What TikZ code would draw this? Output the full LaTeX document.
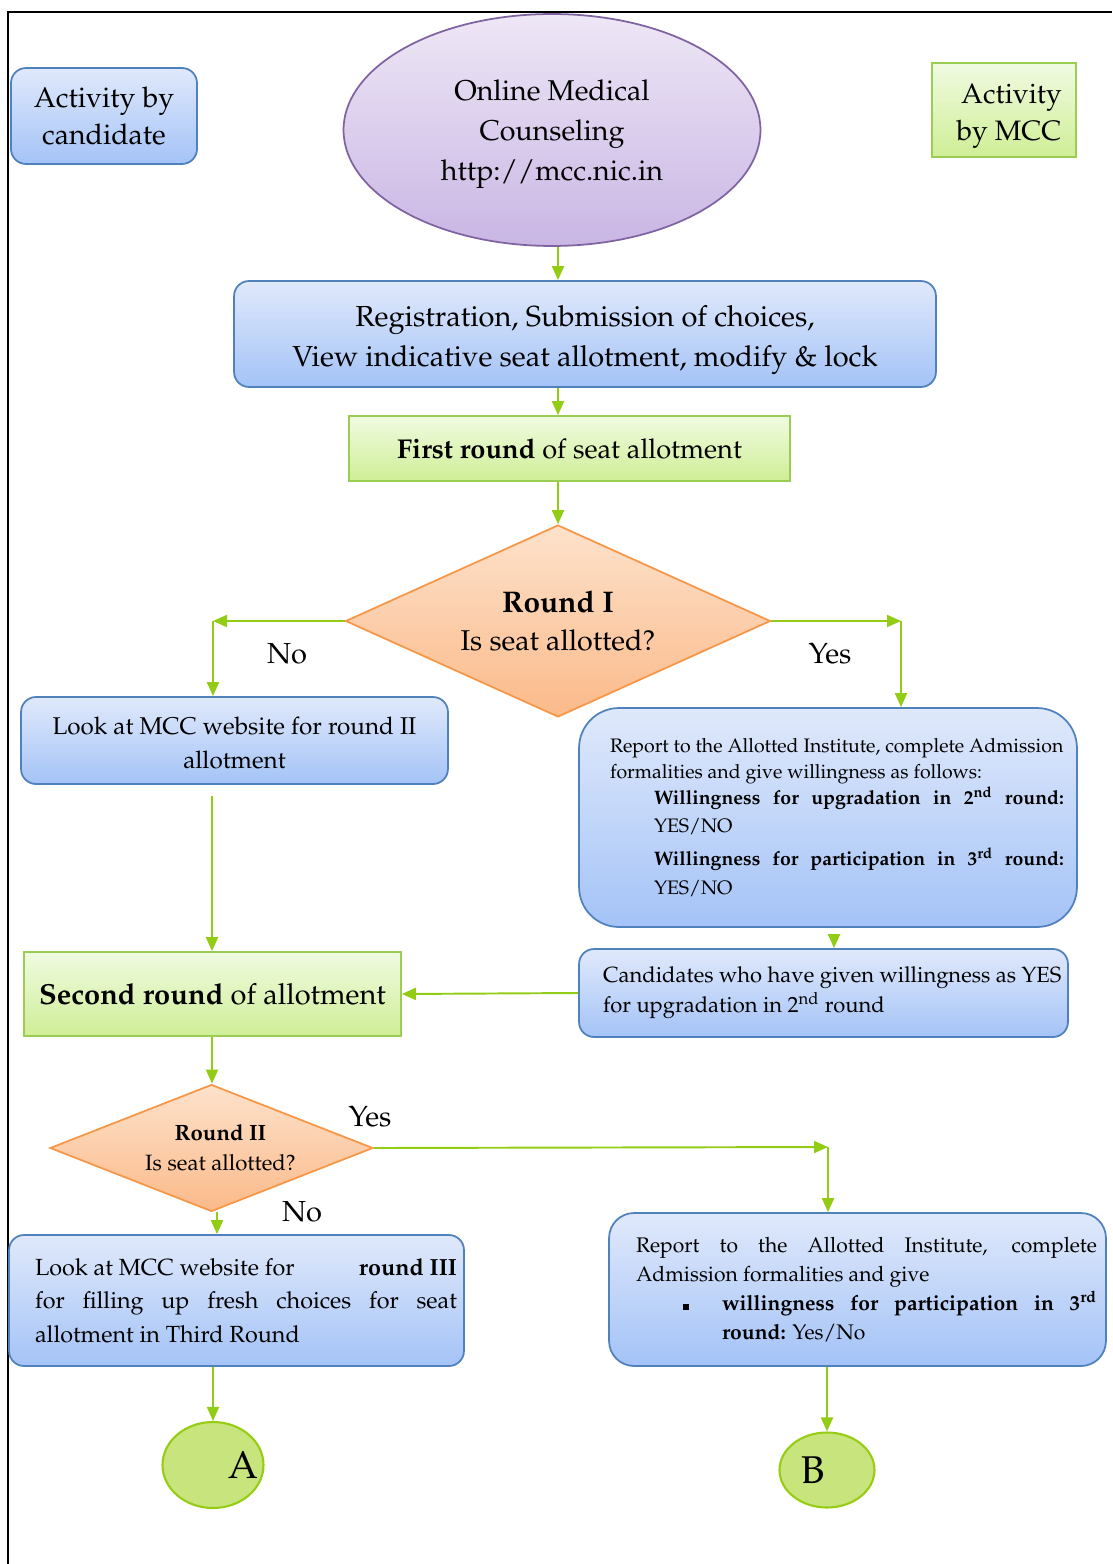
\documentclass[tikz,border=0pt]{standalone}
\usepackage[T1]{fontenc}
\usepackage{mathpazo}
\usepackage{tikz}
\usetikzlibrary{positioning,shapes,arrows.meta}

\definecolor{candtop}{RGB}{224,233,251}
\definecolor{candbot}{RGB}{164,195,247}
\definecolor{candline}{RGB}{79,129,189}
\definecolor{mcctop}{RGB}{240,251,225}
\definecolor{mccbot}{RGB}{207,238,150}
\definecolor{mccline}{RGB}{155,205,85}
\definecolor{dectop}{RGB}{253,226,203}
\definecolor{decbot}{RGB}{251,186,138}
\definecolor{decline}{RGB}{247,150,70}
\definecolor{webtop}{RGB}{238,231,246}
\definecolor{webbot}{RGB}{201,182,228}
\definecolor{webline}{RGB}{128,100,162}
\definecolor{endfill}{RGB}{200,228,125}
\definecolor{endline}{RGB}{150,205,20}
\definecolor{arrgreen}{RGB}{146,204,20}

\tikzset{
  candbox/.style={draw=candline, line width=1pt, rounded corners=0.3cm,
    top color=candtop, bottom color=candbot, inner sep=0pt, align=center},
  mccbox/.style={draw=mccline, line width=1pt, top color=mcctop,
    bottom color=mccbot, inner sep=0pt, align=center},
  decide/.style={diamond, aspect=2.2, draw=decline, line width=1pt,
    top color=dectop, bottom color=decbot, inner sep=0pt, align=center},
  webell/.style={ellipse, draw=webline, line width=1pt, top color=webtop,
    bottom color=webbot, inner sep=0pt, align=center},
  endell/.style={ellipse, draw=endline, line width=1.2pt, fill=endfill,
    inner sep=0pt},
  arr/.style={-{Triangle[length=0.28cm,width=0.24cm]}, draw=arrgreen,
    line width=1.1pt},
  lbl/.style={font=\fontsize{16.5}{19}\selectfont}
}

\begin{document}
\begin{tikzpicture}[x=0.02cm,y=-0.02cm]
\useasboundingbox (0,0) rectangle (1112,1564);
\draw[line width=1.2pt] (8,1564) -- (8,12) -- (1112,12);

% top row
\node[candbox, minimum width=3.72cm, minimum height=1.92cm,
  font=\fontsize{16.2}{21.6}\selectfont] (cand) at (104,116) {Activity by\\candidate};
\node[webell, minimum width=8.34cm, minimum height=4.64cm,
  font=\fontsize{16.3}{22.8}\selectfont] (web) at (552,130)
  {\rule{0pt}{16.5pt}Online Medical\\Counseling\\http://mcc.nic.in};
\node[mccbox, minimum width=2.88cm, minimum height=1.88cm,
  font=\fontsize{16}{21}\selectfont] (mcc) at (1004,110)
  {\rule{0pt}{18.5pt}\hspace*{0.3cm}Activity\\\hspace*{0.2cm}by MCC};

% first round
\node[candbox, minimum width=14.04cm, minimum height=2.12cm,
  font=\fontsize{16.5}{22.8}\selectfont] (reg) at (585,334)
  {\rule{0pt}{18.8pt}Registration, Submission of choices,\\View indicative seat allotment, modify \& lock};
\node[mccbox, minimum width=8.82cm, minimum height=1.3cm,
  font=\fontsize{15.5}{17}\selectfont] (first) at (569.5,448.5)
  {\textbf{First round} of seat allotment};
\node[decide, minimum width=8.5cm, minimum height=3.84cm,
  font=\fontsize{16.3}{22}\selectfont] (r1) at (558,621)
  {{\fontsize{17}{20}\selectfont\bfseries Round I}\\Is seat allotted?};

\node[candbox, minimum width=8.54cm, minimum height=1.74cm,
  font=\fontsize{13.8}{19.4}\selectfont] (look2) at (234.5,740.5)
  {\rule{0pt}{13pt}Look at MCC website for round II\\allotment};
\node[candbox, rounded corners=0.8cm, minimum width=9.96cm, minimum height=4.38cm]
  (rep1) at (828,817.5) {\hspace*{0.36cm}\parbox{9.08cm}{\fontsize{11.1}{14.8}\selectfont
  Report to the Allotted Institute, complete Admission\\
  formalities and give willingness as follows:\\
  \hspace*{0.88cm}\makebox[8.2cm][s]{\bfseries Willingness for upgradation in 2\textsuperscript{nd} round:}\\[1.5pt]
  \hspace*{0.88cm}YES/NO\\[4pt]
  \hspace*{0.88cm}\makebox[8.2cm][s]{\bfseries Willingness for participation in 3\textsuperscript{rd} round:}\\[1.5pt]
  \hspace*{0.88cm}YES/NO}};

% second round
\node[candbox, minimum width=9.78cm, minimum height=1.76cm] (cand2) at (823.5,993)
  {\hspace*{0.38cm}\parbox{9.2cm}{\fontsize{12.5}{17}\selectfont
  Candidates who have given willingness as YES\\
  for upgradation in 2\textsuperscript{nd} round}};
\node[mccbox, minimum width=7.54cm, minimum height=1.68cm,
  font=\fontsize{16.5}{19}\selectfont] (second) at (212.5,994)
  {\textbf{Second round} of allotment};
\node[decide, minimum width=6.46cm, minimum height=2.54cm,
  font=\fontsize{12.6}{17}\selectfont] (r2) at (211.5,1148)
  {\hspace*{0.36cm}\textbf{Round II}\\\hspace*{0.36cm}Is seat allotted?};

% third round
\node[candbox, minimum width=9.1cm, minimum height=2.62cm] (look3) at (236.5,1300.5)
  {\hspace*{0.38cm}\parbox{8.44cm}{\fontsize{13.3}{19}\selectfont
  \makebox[8.44cm][s]{Look at MCC website for\hfill\textbf{round III}}\\
  \makebox[8.44cm][s]{for filling up fresh choices for seat}\\
  allotment in Third Round}};
\node[candbox, rounded corners=0.5cm, minimum width=9.94cm, minimum height=3.06cm]
  (rep2) at (857.5,1289.5) {\hspace*{0.36cm}\parbox{9.22cm}{\fontsize{12}{16.5}\selectfont
  \makebox[9.22cm][s]{Report to the Allotted Institute, complete}\\
  Admission formalities and give\\
  \hspace*{0.94cm}\rule{0.12cm}{0.12cm}\hspace*{0.66cm}\makebox[7.5cm][s]{\bfseries willingness for participation in 3\textsuperscript{rd}}\\
  \hspace*{1.72cm}\textbf{round:} Yes/No}};

\node[endell, minimum width=2.02cm, minimum height=1.72cm,
  font=\fontsize{22}{24}\selectfont] (A) at (213,1465) {\hspace*{0.6cm}\rlap{A}};
\node[endell, minimum width=1.9cm, minimum height=1.5cm,
  font=\fontsize{22}{24}\selectfont] (B) at (827,1470) {\llap{B}\hspace*{0.1cm}};

% labels
\node[lbl] (no1) at (287,654) {No};
\node[lbl] (yes1) at (830,654) {Yes};
\node[lbl] (yes2) at (370,1117) {Yes};
\node[lbl] (no2) at (302,1212) {No};

% connectors
\coordinate (midcol) at (558,0);
\coordinate (leftcol) at (212,0);
\coordinate (rightcol) at (834,0);
\coordinate (nocol) at (217,0);
\coordinate (noturn) at (213,621);
\coordinate (yesturn) at (901,621);
\coordinate (yes2turn) at (828,1147);
\draw[arr] (web.south -| midcol) -- (reg.north -| midcol);
\draw[arr] (reg.south -| midcol) -- (first.north -| midcol);
\draw[arr] (first.south -| midcol) -- (r1.north);
\draw[arr] (r1.west) -- (noturn);
\draw[arr] (noturn) -- (noturn |- look2.north);
\draw[arr] (r1.east) -- (yesturn);
\draw[arr] (yesturn) -- (yesturn |- rep1.north);
\draw[arr, shorten <=0.22cm] (look2.south -| leftcol) -- (second.north -| leftcol);
\draw[arr, shorten <=0.16cm] (rep1.south -| rightcol) -- (cand2.north -| rightcol);
\draw[arr] (cand2.west) -- (second.east);
\draw[arr] (second.south -| leftcol) -- (r2.north -| leftcol);
\draw[arr] (r2.east) -- (yes2turn);
\draw[arr] (yes2turn) -- (yes2turn |- rep2.north);
\draw[arr] (r2.south -| nocol) -- (look3.north -| nocol);
\draw[arr] (look3.south -| A.north) -- (A.north);
\draw[arr] (rep2.south -| B.north) -- (B.north);
\end{tikzpicture}
\end{document}
